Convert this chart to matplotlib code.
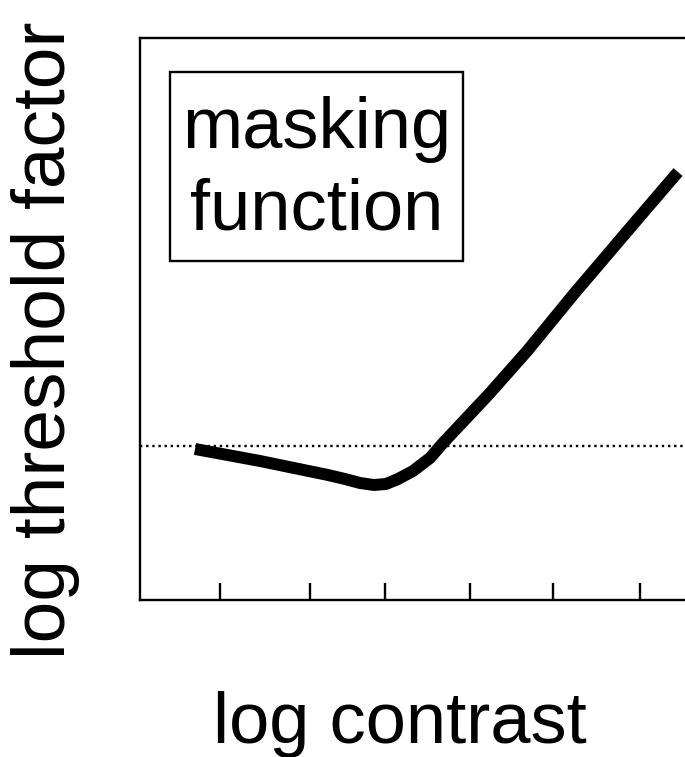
import matplotlib
matplotlib.use("Agg")
import matplotlib.pyplot as plt
from matplotlib.patches import Rectangle

plt.rcParams['font.family'] = ['Liberation Sans', 'DejaVu Sans']

# masking function (arbitrary log units)
log_contrast = [5.5, 12.0, 18.8, 20.5, 22.0, 23.4, 24.6, 25.8, 27.3, 29.0, 30.3, 35.0, 38.8, 43.3, 49.0, 53.8]
log_threshold = [15.1, 13.9, 12.5, 12.1, 11.7, 11.5, 11.6, 12.1, 12.9, 14.2, 15.7, 20.7, 25.0, 30.5, 37.2, 42.8]
baseline_level = 15.4
tick_positions = [8.0, 17.0, 24.5, 33.0, 41.3, 50.0]

fig = plt.figure(figsize=(6.85, 7.57), dpi=100)
ax = fig.add_axes([0.2044, 0.2074, 0.7956, 0.7424])

ax.axhline(baseline_level, color='black', lw=1.7, linestyle=(0, (1, 1.6)))
ax.plot(log_contrast, log_threshold, color='black', lw=8.6,
        solid_capstyle='butt', solid_joinstyle='round')

ax.set_xlim(0, 54.5)
ax.set_ylim(0, 56.2)
ax.set_xticks(tick_positions)
ax.set_xticklabels([])
ax.set_yticks([])
ax.tick_params(axis='x', direction='in', length=12, width=1.7, color='black')
for side in ['left', 'bottom', 'top']:
    ax.spines[side].set_linewidth(1.7)
ax.spines['right'].set_visible(False)

# boxed label
box = Rectangle((0.055, 0.603), 0.538, 0.337, transform=ax.transAxes,
                fill=False, edgecolor='black', lw=1.7)
ax.add_patch(box)
ax.text(0.324, 0.764, 'masking\nfunction', transform=ax.transAxes,
        ha='center', va='center', fontsize=52, linespacing=1.28)

fig.text(0.066, 0.551, 'log threshold factor', rotation=90,
         ha='center', va='center', fontsize=54)
fig.text(0.584, 0.0185, 'log contrast', ha='center', va='baseline', fontsize=52)

fig.savefig('out.png', dpi=100)
